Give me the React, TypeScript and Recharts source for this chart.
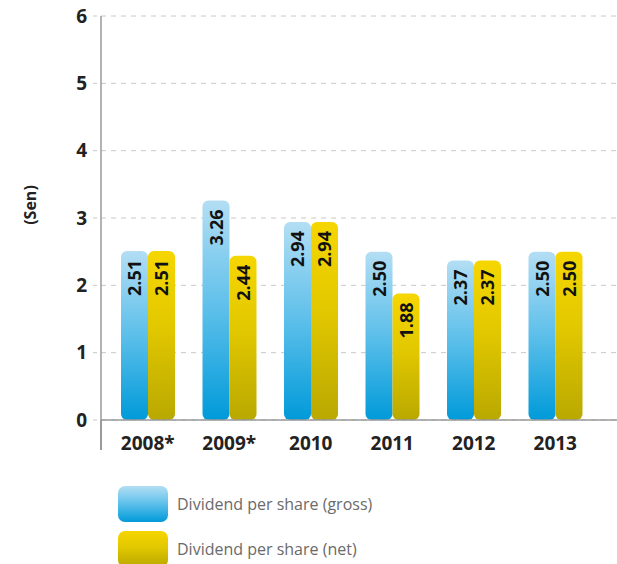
import { BarChart, Bar, XAxis, YAxis, CartesianGrid, LabelList } from "recharts";

const years = ["2008*", "2009*", "2010", "2011", "2012", "2013"];
const gross = [2.51, 3.26, 2.94, 2.5, 2.37, 2.5];
const net = [2.51, 2.44, 2.94, 1.88, 2.37, 2.5];
const yTicks = [0, 1, 2, 3, 4, 5, 6];
const seriesNames = ["Dividend per share (gross)", "Dividend per share (net)"];

const data = years.map((year, i) => ({ year, gross: gross[i], net: net[i] }));

const FONT = "'Open Sans', sans-serif";
const grossCss = "linear-gradient(#b3def4, #5cbfea 50%, #009ad9)";
const netCss = "linear-gradient(#f6d600, #e2c800 45%, #b9a800)";

const BarLabel = (props: any) => {
  const { x, y, width, value } = props;
  const cx = x + width / 2;
  const ty = y + 9;
  return (
    <text
      x={cx}
      y={ty}
      transform={`rotate(-90 ${cx} ${ty})`}
      textAnchor="end"
      dominantBaseline="central"
      fontFamily={FONT}
      fontWeight={700}
      fontSize={18}
      fill="#111"
    >
      {Number(value).toFixed(2)}
    </text>
  );
};

const SenLabel = (props: any) => {
  const { viewBox } = props;
  const x = viewBox.x + 30;
  const y = viewBox.y + viewBox.height / 2 - 13;
  return (
    <text x={x} y={y} transform={`rotate(-90 ${x} ${y})`} textAnchor="middle" dominantBaseline="central" fontFamily={FONT} fontWeight={700} fontSize={16} fill="#222">
      (Sen)
    </text>
  );
};

const LegendBox = () => (
  <div style={{ position: "absolute", left: 118, top: 486, fontFamily: FONT, fontSize: 16, color: "#6a6a6a" }}>
    {seriesNames.map((name, i) => (
      <div key={name} style={{ display: "flex", alignItems: "center", height: 36, marginBottom: 9 }}>
        <div style={{ width: 50, height: 36, borderRadius: 7, background: i === 0 ? grossCss : netCss, marginRight: 9 }} />
        <span>{name}</span>
      </div>
    ))}
  </div>
);

export default function App() {
  return (
    <div style={{ position: "absolute", left: 0, top: 0, width: 617, height: 564, background: "#fff" }}>
      <BarChart width={617} height={564} data={data} margin={{ top: 16, right: 0, bottom: 104, left: 0 }} barGap={0} barSize={27}>
        <defs>
          <linearGradient id="gGross" x1="0" y1="0" x2="0" y2="1">
            <stop offset="0%" stopColor="#b3def4" />
            <stop offset="50%" stopColor="#5cbfea" />
            <stop offset="100%" stopColor="#009ad9" />
          </linearGradient>
          <linearGradient id="gNet" x1="0" y1="0" x2="0" y2="1">
            <stop offset="0%" stopColor="#f6d600" />
            <stop offset="45%" stopColor="#e2c800" />
            <stop offset="100%" stopColor="#b9a800" />
          </linearGradient>
        </defs>
        <CartesianGrid vertical={false} stroke="#c8c8c8" strokeDasharray="5 5" />
        <XAxis
          dataKey="year"
          padding={{ left: 6, right: 21 }}
          tickLine={false}
          axisLine={{ stroke: "#9a9a9a", strokeWidth: 1.5 }}
          tickMargin={11}
          height={40}
          tick={{ fontFamily: FONT, fontWeight: 700, fontSize: 19, fill: "#222" }}
        />
        <YAxis
          domain={[0, 6]}
          ticks={yTicks}
          width={101}
          axisLine={{ stroke: "#9a9a9a", strokeWidth: 1.5 }}
          tickLine={{ stroke: "#c8c8c8", strokeDasharray: "4 4" }}
          tickSize={8}
          tickMargin={6}
          tick={{ fontFamily: FONT, fontWeight: 700, fontSize: 19, fill: "#222" }}
          label={SenLabel}
        />
        <Bar dataKey="gross" name={seriesNames[0]} fill="url(#gGross)" radius={[6, 6, 6, 6]} isAnimationActive={false}>
          <LabelList dataKey="gross" content={BarLabel} />
        </Bar>
        <Bar dataKey="net" name={seriesNames[1]} fill="url(#gNet)" radius={[6, 6, 6, 6]} isAnimationActive={false}>
          <LabelList dataKey="net" content={BarLabel} />
        </Bar>
      </BarChart>
      <div style={{ position: "absolute", left: 100, top: 420, width: 1.5, height: 30, background: "#9a9a9a" }} />
      <LegendBox />
    </div>
  );
}
